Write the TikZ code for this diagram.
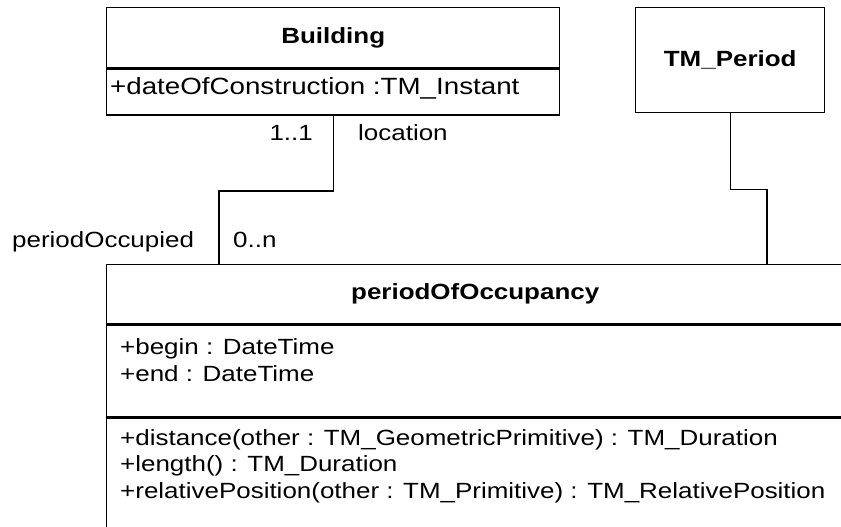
\documentclass[tikz,border=0pt]{standalone}
\usepackage{fontspec}
\setmainfont[FakeStretch=1.18]{Liberation Sans}
\tikzset{
    umlbox/.style={draw=black, line width=1.4pt, inner sep=0pt, font=\fontsize{22}{27}\selectfont\bfseries},
    umltext/.style={inner sep=0pt, font=\fontsize{22}{27}\selectfont},
    assoc/.style={draw=black, line width=1.4pt}
}
\begin{document}
\begin{tikzpicture}[x=1pt, y=-1pt]
        \clip (0,0) rectangle (841,527);
        \node[umlbox, minimum width=453pt, minimum height=60pt, anchor=north west] (bname) at (106,7) {Building};
        \node[umlbox, minimum width=453pt, minimum height=46pt, anchor=north] (battr) at (bname.south) {};
        \node[umlbox, minimum width=189pt, minimum height=105pt, anchor=north west] (tmperiod) at (635,7) {TM\_Period};
        \node[umlbox, minimum width=737pt, minimum height=59pt, anchor=north west] (occname) at (106,264) {periodOfOccupancy};
        \node[umlbox, minimum width=737pt, minimum height=92pt, anchor=north] (occattr) at (occname.south) {};
        \node[umlbox, minimum width=737pt, minimum height=112pt, anchor=north] (occops) at (occattr.south) {};
        \node[umltext, font=\fontsize{23.5}{27}\selectfont, anchor=base west] (dateattr) at (110,95) {+dateOfConstruction :TM\_Instant};
        \node[umltext, anchor=base west] (beginattr) at (120,354) {+begin : DateTime};
        \node[umltext, anchor=base west] (endattr) at (120,381) {+end : DateTime};
        \node[umltext, anchor=base west] (distop) at (120,445) {+distance(other : TM\_GeometricPrimitive) : TM\_Duration};
        \node[umltext, anchor=base west] (lengthop) at (120,471.5) {+length() : TM\_Duration};
        \node[umltext, anchor=base west] (relposop) at (120,498) {+relativePosition(other : TM\_Primitive) : TM\_RelativePosition};
        \coordinate (occleft) at (219,264);
        \coordinate (occright) at (767,264);
        \draw[assoc] (battr.south) -- ++(0,75) -| (occleft);
        \draw[assoc] (tmperiod.south) -- ++(0,76) -| (occright);
        \node[umltext, anchor=base east] (multone) at (313,140) {1..1};
        \node[umltext, anchor=base west] (rolelocation) at (358,140) {location};
        \node[umltext, anchor=base west] (roleperiod) at (12,247) {periodOccupied};
        \node[umltext, anchor=base west] (multmany) at (233,247) {0..n};
    \end{tikzpicture}
\end{document}
